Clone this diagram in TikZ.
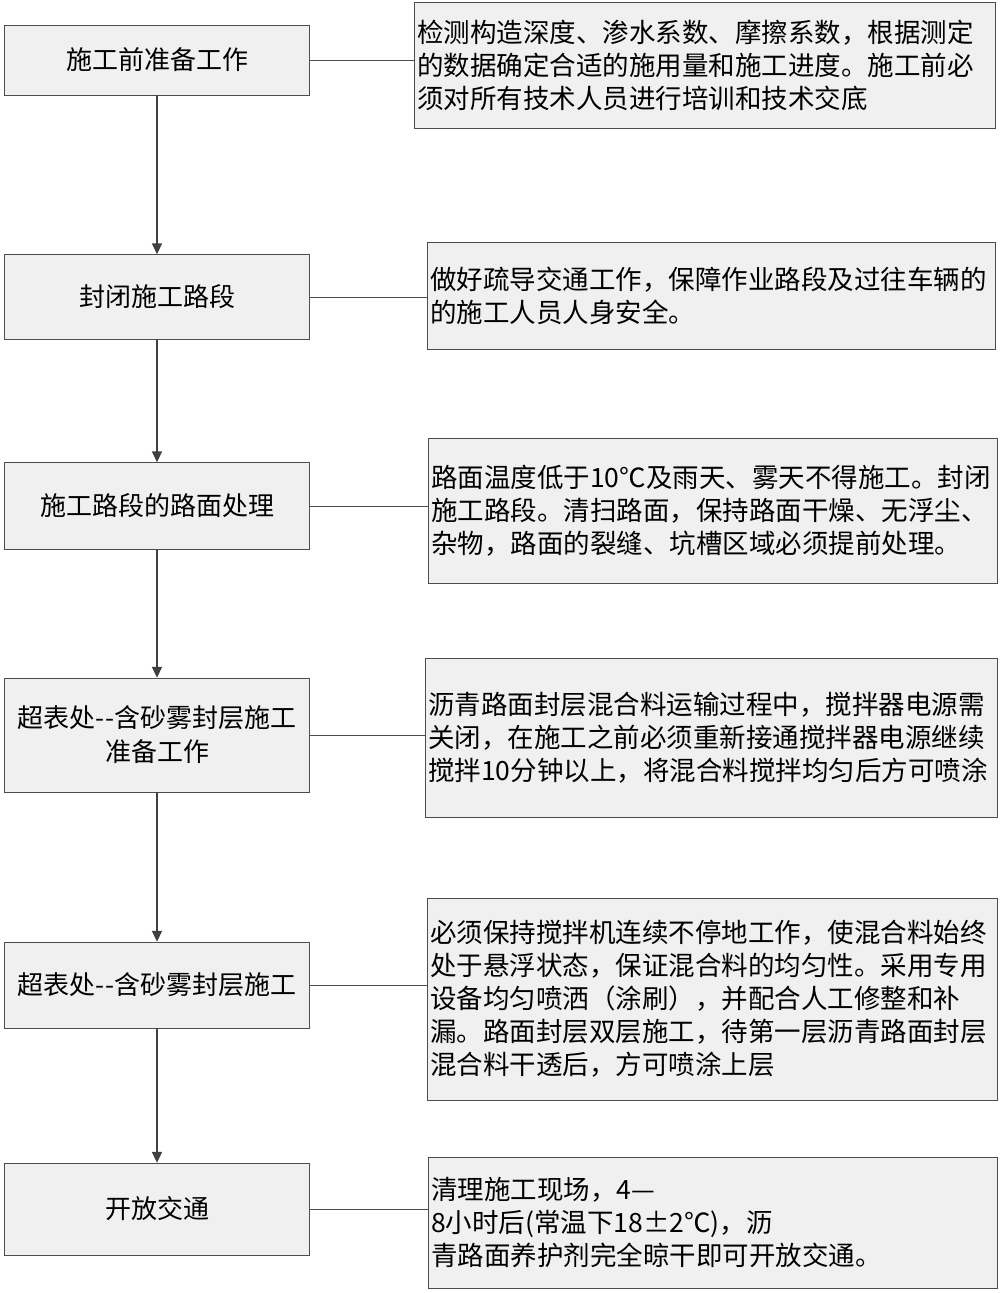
\documentclass[tikz,border=0pt]{standalone}
\usepackage{fontspec}
\setmainfont{Noto Sans CJK SC}
\usetikzlibrary{arrows.meta}
\tikzset{
  stepbox/.style={draw=black!70,fill=black!6,minimum width=305pt,align=center,font=\fontsize{26}{34}\selectfont},
  notebox/.style={draw=black!70,fill=black!6,anchor=north west,align=left,inner xsep=3pt,font=\fontsize{26.5}{33}\selectfont},
  flow/.style={draw=black!75,line width=1.6pt,-{Triangle[length=11pt,width=10pt]}},
  link/.style={draw=black!70,line width=0.6pt}
}
\begin{document}
\begin{tikzpicture}[x=1pt,y=-1pt]
\useasboundingbox (0,0) rectangle (1001,1293);
% steps
\node[stepbox,minimum height=70pt] (s1) at (157,60) {施工前准备工作};
\node[stepbox,minimum height=85pt] (s2) at (157,297) {封闭施工路段};
\node[stepbox,minimum height=87pt] (s3) at (157,506) {施工路段的路面处理};
\node[stepbox,minimum height=114pt] (s4) at (157,735) {超表处{-}{-}含砂雾封层施工\\准备工作};
\node[stepbox,minimum height=86pt] (s5) at (157,985) {超表处{-}{-}含砂雾封层施工};
\node[stepbox,minimum height=92pt] (s6) at (157,1209) {开放交通};
% notes
\node[notebox,text width=575pt,minimum height=126pt] (n1) at (414,2) {检测构造深度、渗水系数、摩擦系数，根据测定\\的数据确定合适的施用量和施工进度。施工前必\\须对所有技术人员进行培训和技术交底};
\node[notebox,text width=562pt,minimum height=107pt] (n2) at (427,242) {做好疏导交通工作，保障作业路段及过往车辆的\\的施工人员人身安全。};
\node[notebox,text width=563pt,minimum height=145pt] (n3) at (428,438) {路面温度低于10℃及雨天、雾天不得施工。封闭\\施工路段。清扫路面，保持路面干燥、无浮尘、\\杂物，路面的裂缝、坑槽区域必须提前处理。};
\node[notebox,text width=566pt,minimum height=159pt] (n4) at (425,658) {沥青路面封层混合料运输过程中，搅拌器电源需\\关闭，在施工之前必须重新接通搅拌器电源继续\\搅拌10分钟以上，将混合料搅拌均匀后方可喷涂};
\node[notebox,text width=564pt,minimum height=202pt] (n5) at (427,898) {必须保持搅拌机连续不停地工作，使混合料始终\\处于悬浮状态，保证混合料的均匀性。采用专用\\设备均匀喷洒（涂刷），并配合人工修整和补\\漏。路面封层双层施工，待第一层沥青路面封层\\混合料干透后，方可喷涂上层};
\node[notebox,text width=563pt,minimum height=131pt] (n6) at (428,1157) {清理施工现场，4—8小时后(常温下18±2℃)，沥\\青路面养护剂完全晾干即可开放交通。};
% connectors
\foreach \i/\j in {1/2,2/3,3/4,4/5,5/6}
  \draw[flow] (s\i) -- (s\j);
\foreach \i in {1,...,6}
  \draw[link] (s\i.east) -- (s\i.east -| n\i.west);
\end{tikzpicture}
\end{document}
